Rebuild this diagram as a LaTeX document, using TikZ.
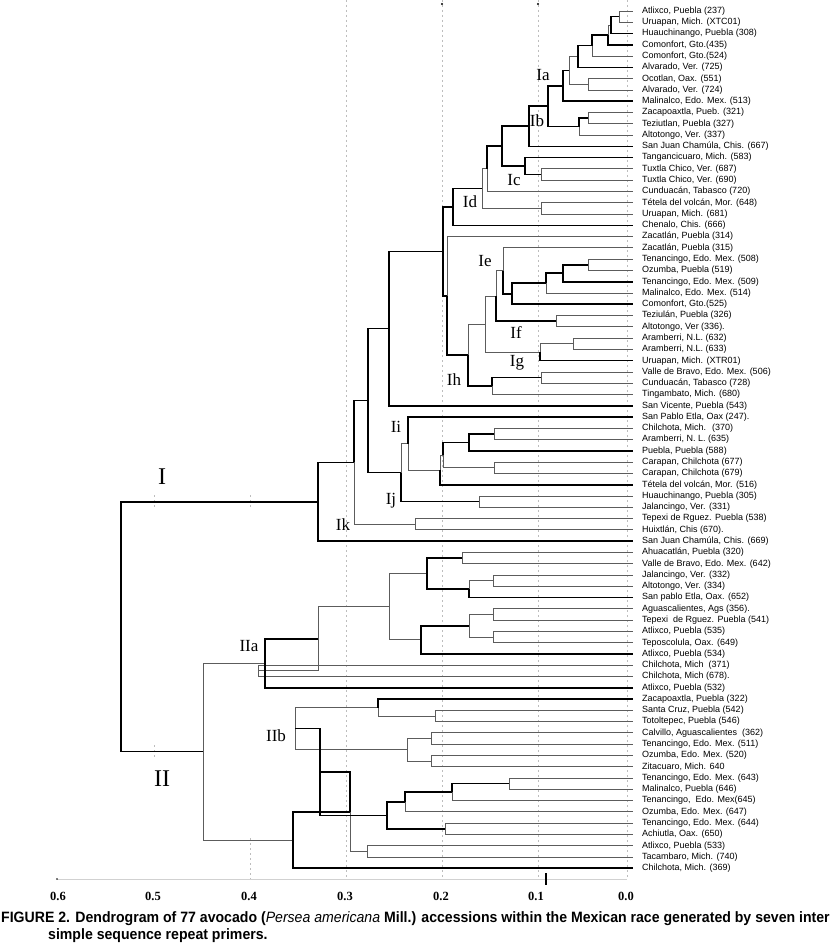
\documentclass[tikz,border=0pt]{standalone}
\usepackage{fontspec}
\setmainfont{Liberation Sans}
\newfontfamily\serifnum{Liberation Serif}
\newfontfamily\capfont[FakeStretch=0.94]{Liberation Sans}
\usetikzlibrary{calc}
\definecolor{d_gray}{HTML}{5C5C5C}
\definecolor{l_gray}{HTML}{BDBDBD}
% joint of two branches, placed halfway between them
\newcommand\jn[4]{\path let \p1=($(#3)!.5!(#4)$) in (#2,\y1) coordinate (#1);}

\begin{document}
\begin{tikzpicture}[x=1pt,y=-1pt,
  bk/.style={line width=1.6pt,black},
  gy/.style={line width=0.9pt,d_gray},
  grid/.style={l_gray,line width=0.7pt,dash pattern=on 2pt off 3pt},
  leaf/.style={anchor=west,inner sep=0pt,font=\fontsize{9}{9}\selectfont},
  clus/.style={font=\serifnum\fontsize{17}{17}\selectfont},
  main/.style={font=\serifnum\fontsize{24}{24}\selectfont},
  tick/.style={font=\serifnum\bfseries\fontsize{12.5}{12.5}\selectfont},
  capt/.style={anchor=west,inner sep=0pt,font=\capfont\bfseries\fontsize{15}{15}\selectfont}]
\useasboundingbox[fill=white] (0,0) rectangle (832,952);

% grid
\foreach \x in {346,442,538,627}
\draw[grid] (\x,0) -- (\x,879);
\draw[grid] (250,838) -- (250,879);
\foreach \y in {502,752}
\draw[grid] (154,\y-7) -- (154,\y+7);
\draw[grid] (250,495) -- (250,509);
\draw[l_gray!70,line width=0.6pt] (57,879) -- (627,879);
\draw[line width=1.4pt] (546,873) -- (546,885);
\fill (442,4) circle (1.2) (538,4) circle (1.2) (57,879) circle (0.8);

% leaves
\foreach \lab [count=\i] in {{Atlixco, Puebla (237)},{Uruapan, Mich. (XTC01)},
  {Huauchinango, Puebla (308)},{Comonfort, Gto.(435)},{Comonfort, Gto.(524)},
  {Alvarado, Ver. (725)},{Ocotlan, Oax. (551)},{Alvarado, Ver. (724)},
  {Malinalco, Edo. Mex. (513)},{Zacapoaxtla, Pueb. (321)},{Teziutlan, Puebla (327)},
  {Altotongo, Ver. (337)},{San Juan Chamúla, Chis. (667)},{Tangancicuaro, Mich. (583)},
  {Tuxtla Chico, Ver. (687)},{Tuxtla Chico, Ver. (690)},{Cunduacán, Tabasco (720)},
  {Tétela del volcán, Mor. (648)},{Uruapan, Mich. (681)},{Chenalo, Chis. (666)},
  {Zacatlán, Puebla (314)},{Zacatlán, Puebla (315)},{Tenancingo, Edo. Mex. (508)},
  {Ozumba, Puebla (519)},{Tenancingo, Edo. Mex. (509)},{Malinalco, Edo. Mex. (514)},
  {Comonfort, Gto.(525)},{Teziulán, Puebla (326)},{Altotongo, Ver (336).},
  {Aramberri, N.L. (632)},{Aramberri, N.L. (633)},{Uruapan, Mich. (XTR01)},
  {Valle de Bravo, Edo. Mex. (506)},{Cunduacán, Tabasco (728)},{Tingambato, Mich. (680)},
  {San Vicente, Puebla (543)},{San Pablo Etla, Oax (247).},{Chilchota, Mich.~ (370)},
  {Aramberri, N. L. (635)},{Puebla, Puebla (588)},{Carapan, Chilchota (677)},
  {Carapan, Chilchota (679)},{Tétela del volcán, Mor. (516)},{Huauchinango, Puebla (305)},
  {Jalancingo, Ver. (331)},{Tepexi de Rguez. Puebla (538)},{Huixtlán, Chis (670).},
  {San Juan Chamúla, Chis. (669)},{Ahuacatlán, Puebla (320)},{Valle de Bravo, Edo. Mex. (642)},
  {Jalancingo, Ver. (332)},{Altotongo, Ver. (334)},{San pablo Etla, Oax. (652)},
  {Aguascalientes, Ags (356).},{Tepexi~ de Rguez. Puebla (541)},{Atlixco, Puebla (535)},
  {Teposcolula, Oax. (649)},{Atlixco, Puebla (534)},{Chilchota, Mich~ (371)},
  {Chilchota, Mich (678).},{Atlixco, Puebla (532)},{Zacapoaxtla, Puebla (322)},
  {Santa Cruz, Puebla (542)},{Totoltepec, Puebla (546)},{Calvillo, Aguascalientes~ (362)},
  {Tenancingo, Edo. Mex. (511)},{Ozumba, Edo. Mex. (520)},{Zitacuaro, Mich. 640},
  {Tenancingo, Edo. Mex. (643)},{Malinalco, Puebla (646)},{Tenancingo,~ Edo. Mex(645)},
  {Ozumba, Edo. Mex. (647)},{Tenancingo, Edo. Mex. (644)},{Achiutla, Oax. (650)},
  {Atlixco, Puebla (533)},{Tacambaro, Mich. (740)},{Chilchota, Mich. (369)}}
{
  \coordinate (l\i) at (633,{11+11.28*(\i-1)});
  \node[leaf] (t\i) at (642,{11+11.28*(\i-1)}) {\lab};
}

% joints
\jn{a1}{619}{l1}{l2}
\jn{a2}{611}{a1}{l3}
\jn{a3}{608}{a2}{l4}
\jn{a4}{592}{a3}{l5}
\jn{a5}{578}{a4}{l6}
\jn{a6}{588}{l7}{l8}
\jn{a7}{569}{a5}{a6}
\jn{a8}{563}{a7}{l9}
\jn{b1}{588}{l10}{l11}
\jn{b2}{579}{b1}{l12}
\jn{b3}{548}{a8}{b2}
\jn{b4}{529}{b3}{l13}
\jn{c1}{541}{l15}{l16}
\jn{c2}{525}{l14}{c1}
\jn{c3}{502}{b4}{c2}
\jn{c4}{487}{c3}{l17}
\jn{d1}{541}{l18}{l19}
\jn{d2}{482}{c4}{d1}
\jn{d3}{453}{d2}{l20}
\jn{e1}{588}{l23}{l24}
\jn{e2}{563}{e1}{l25}
\jn{e3}{546}{e2}{l26}
\jn{e4}{512}{e3}{l27}
\jn{e5}{503}{l22}{e4}
\jn{f1}{556}{l28}{l29}
\jn{e6}{496}{e5}{f1}
\jn{g1}{573}{l30}{l31}
\jn{g2}{540}{g1}{l32}
\jn{e7}{485}{e6}{g2}
\jn{h1}{541}{l33}{l34}
\jn{h2}{492}{h1}{l35}
\jn{h3}{468}{e7}{h2}
\jn{h4}{447}{l21}{h3}
\jn{h5}{443}{d3}{h4}
\jn{h6}{389}{h5}{l36}
\jn{i1}{494}{l38}{l39}
\jn{i2}{469}{i1}{l40}
\jn{i3}{494}{l41}{l42}
\jn{i4}{443}{i2}{i3}
\jn{i5}{440}{i4}{l43}
\jn{i6}{408}{l37}{i5}
\jn{j1}{479}{l44}{l45}
\jn{j2}{401}{i6}{j1}
\jn{k0}{368}{h6}{j2}
\jn{k1}{415}{l46}{l47}
\jn{k2}{354}{k0}{k1}
\jn{k3}{318}{k2}{l48}
\jn{m1}{462}{l49}{l50}
\jn{m2}{493}{l51}{l52}
\jn{m3}{469}{m2}{l53}
\jn{m4}{427}{m1}{m3}
\jn{m5}{493}{l54}{l55}
\jn{m6}{493}{l56}{l57}
\jn{m7}{469}{m5}{m6}
\jn{m8}{421}{m7}{l58}
\jn{m9}{389}{m4}{m8}
\jn{m10}{258}{l59}{l60}
\jn{m11}{318}{m9}{m10}
\jn{m12}{265}{m11}{l61}
\jn{n1}{435}{l63}{l64}
\jn{n2}{378}{l62}{n1}
\jn{n3}{431}{l65}{l66}
\jn{n4}{431}{l67}{l68}
\jn{n5}{407}{n3}{n4}
\jn{n6}{295}{n2}{n5}
\jn{n7}{509}{l69}{l70}
\jn{n8}{452}{n7}{l71}
\jn{n9}{405}{n8}{l72}
\jn{n10}{445}{l73}{l74}
\jn{n11}{387}{n9}{n10}
\jn{n12}{320}{n6}{n11}
\jn{n13}{367}{l75}{l76}
\jn{n14}{350}{n12}{n13}
\jn{n15}{293}{n14}{l77}
\jn{n16}{203}{m12}{n15}
\jn{rt}{121}{k3}{n16}

% thin branches
\foreach \p/\c in {a1/l1,a1/l2,a3/a2,a4/l5,a6/l7,a6/l8,a7/a5,a7/a6,b1/l10,b1/l11,
  b2/l12,c1/l15,c1/l16,c4/l17,d1/l18,d1/l19,d2/c4,d2/d1,e1/l23,e1/l24,e3/l26,
  e5/l22,f1/l28,f1/l29,e6/e5,g1/l30,g1/l31,g2/g1,e7/e6,e7/g2,h1/l33,h1/l34,
  h2/l35,h3/e7,h4/l21,i1/l38,i1/l39,i3/l41,i3/l42,i4/i3,i5/i4,i6/i5,j1/l44,
  j1/l45,j2/i6,k1/l46,k1/l47,k2/k1,m1/l49,m1/l50,m2/l51,m2/l52,m3/m2,m5/l54,
  m5/l55,m6/l56,m6/l57,m7/m5,m7/m6,m9/m4,m9/m8,m10/l59,m10/l60,m11/m9,m11/m10,
  n1/l63,n1/l64,n2/n1,n3/l65,n3/l66,n4/l67,n4/l68,n5/n3,n5/n4,n6/n2,n6/n5,
  n7/l69,n7/l70,n8/l71,n9/l72,n10/l73,n10/l74,n13/l75,n13/l76,n14/n13,
  n16/m12,n16/n15}
\draw[gy] (\p) |- (\c);

% heavy branches
\foreach \p/\c in {a2/a1,a2/l3,a3/l4,a4/a3,a5/a4,a5/l6,a8/a7,a8/l9,b2/b1,b3/a8,
  b3/b2,b4/b3,b4/l13,c2/l14,c2/c1,c3/b4,c3/c2,c4/c3,d3/d2,d3/l20,e2/e1,e2/l25,
  e3/e2,e4/e3,e4/l27,e5/e4,e6/f1,g2/l32,h2/h1,h3/h2,h4/h3,h5/d3,h5/h4,h6/h5,
  h6/l36,i2/i1,i2/l40,i4/i2,i5/l43,i6/l37,j2/j1,k0/h6,k0/j2,k2/k0,k3/k2,k3/l48,
  m3/l53,m4/m1,m4/m3,m8/m7,m8/l58,m12/m11,m12/l61,n2/l62,n8/n7,n9/n8,n11/n9,
  n11/n10,n12/n6,n12/n11,n14/n12,n15/n14,n15/l77,rt/k3,rt/n16}
\draw[bk] (\p) |- (\c);

% cluster names
\node[clus] (Ia) at (543,75) {Ia};
\node[clus] (Ib) at (537,121) {Ib};
\node[clus] (Ic) at (514,180) {Ic};
\node[clus] (Id) at (470,202) {Id};
\node[clus] (Ie) at (485,261) {Ie};
\node[clus] (If) at (516,333) {If};
\node[clus] (Ig) at (517,363) {Ig};
\node[clus] (Ih) at (454,380) {Ih};
\node[clus] (Ii) at (396,427) {Ii};
\node[clus] (Ij) at (391,501) {Ij};
\node[clus] (Ik) at (343,525) {Ik};
\node[clus] (IIa) at (249,646) {IIa};
\node[clus] (IIb) at (276,736) {IIb};
\node[main] (I) at (162,477) {I};
\node[main] (II) at (162,779) {II};

% axis
\foreach \v/\x in {0.6/58,0.5/153,0.4/249,0.3/345,0.2/441,0.1/536,0.0/626}
\node[tick] (v\x) at (\x,896) {\v};

% caption
\node[capt] (cap1) at (1,919)
  {FIGURE 2. Dendrogram of 77 avocado ({\mdseries\itshape Persea americana} Mill.) accessions within the Mexican race generated by seven inter};
\node[capt] (cap2) at (48,936) {simple sequence repeat primers.};
\end{tikzpicture}
\end{document}
